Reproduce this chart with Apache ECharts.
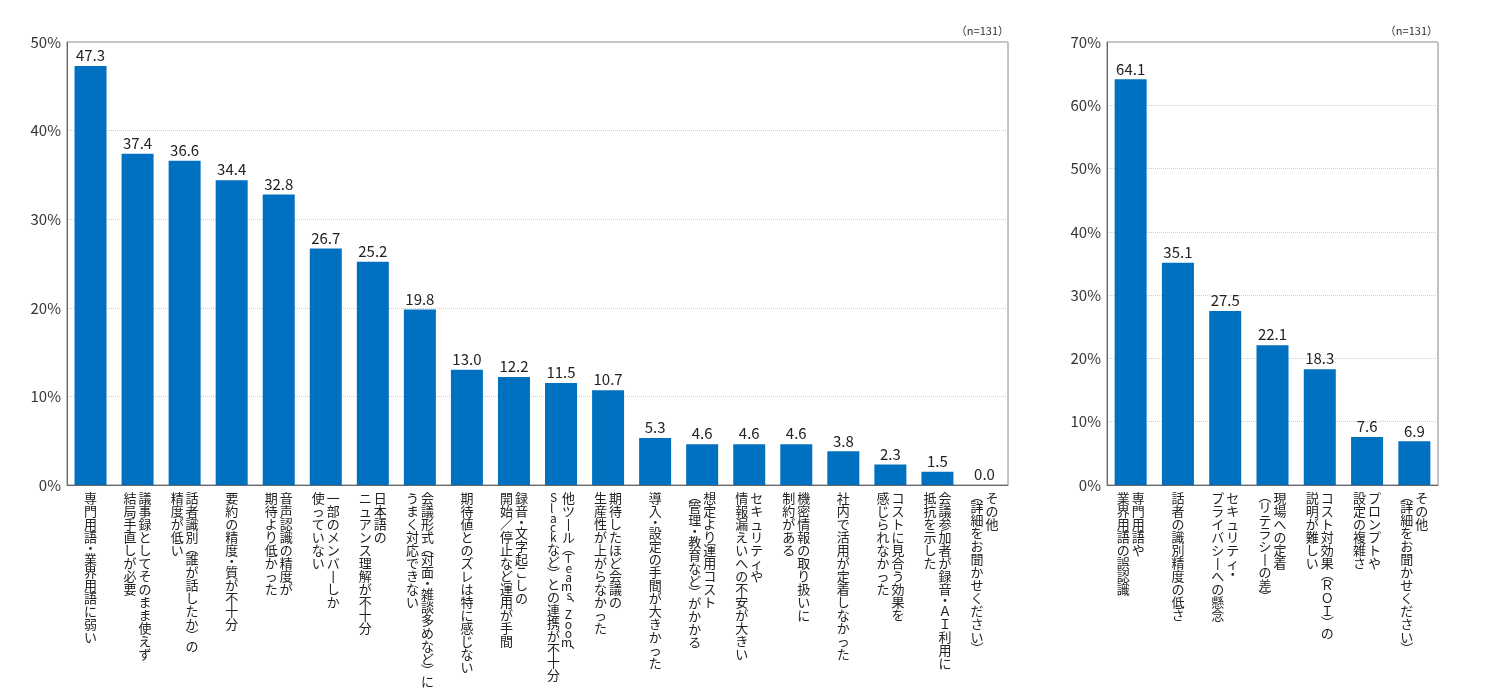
<!DOCTYPE html>
<html><head><meta charset="utf-8">
<script src="https://cdn.jsdelivr.net/npm/echarts@6/dist/echarts.min.js"></script>
<style>html,body{margin:0;padding:0;background:#fff}#c{width:1500px;height:700px}</style>
</head><body><div id="c"></div>
<script>
const leftCategories = [
  '専門用語・業界用語に弱い',
  '議事録としてそのまま使えず\n結局手直しが必要',
  '話者識別（誰が話したか）の\n精度が低い',
  '要約の精度・質が不十分',
  '音声認識の精度が\n期待より低かった',
  '一部のメンバーしか\n使っていない',
  '日本語の\nニュアンス理解が不十分',
  '会議形式（対面・雑談多めなど）に\nうまく対応できない',
  '期待値とのズレは特に感じない',
  '録音・文字起こしの\n開始／停止など運用が手間',
  '他ツール（Teams、Zoom、\nSlackなど）との連携が不十分',
  '期待したほど会議の\n生産性が上がらなかった',
  '導入・設定の手間が大きかった',
  '想定より運用コスト\n（管理・教育など）がかかる',
  'セキュリティや\n情報漏えいへの不安が大きい',
  '機密情報の取り扱いに\n制約がある',
  '社内で活用が定着しなかった',
  'コストに見合う効果を\n感じられなかった',
  '会議参加者が録音・ＡＩ利用に\n抵抗を示した',
  'その他\n（詳細をお聞かせください）'
];
const leftValues = [47.3, 37.4, 36.6, 34.4, 32.8, 26.7, 25.2, 19.8, 13.0, 12.2, 11.5, 10.7, 5.3, 4.6, 4.6, 4.6, 3.8, 2.3, 1.5, 0.0];

const rightCategories = [
  '専門用語や\n業界用語の誤認識',
  '話者の識別精度の低さ',
  'セキュリティ・\nプライバシーへの懸念',
  '現場への定着\n（リテラシーの差）',
  'コスト対効果（ＲＯＩ）の\n説明が難しい',
  'プロンプトや\n設定の複雑さ',
  'その他\n（詳細をお聞かせください）'
];
const rightValues = [64.1, 35.1, 27.5, 22.1, 18.3, 7.6, 6.9];

const leftMax = 50, rightMax = 70, tickStep = 10;
const sampleNote = '（n=131）';

const FONT = "'Noto Sans CJK JP', 'Noto Sans', sans-serif";
const BAR = '#0070c0';
const VMAP = {'ー': '丨', '（': '︵', '）': '︶', '、': '︑'};
const HALF = new Set(['（', '）', '・', '、']);

function colRich(col, side) {
  if (!col) return '';
  const lines = [];
  for (const ch of col) {
    if (/[A-Za-z]/.test(ch)) {
      const t = /[A-Zbdfhklt]/.test(ch) ? 'u' : 'w';
      if (side === 'R') lines.push('{R' + t + '|' + ch + '}{spR| }');
      else if (side === 'L') lines.push('{spL| }{L' + t + '|' + ch + '}');
      else lines.push('{C' + t + '|' + ch + '}');
    } else {
      const t = HALF.has(ch) ? 'h' : 'f';
      lines.push('{' + side + t + '|' + (VMAP[ch] || ch) + '}');
    }
  }
  return lines.join('\n');
}
function fmtA(v) { const c = v.split('\n'); return colRich(c[0], c.length > 1 ? 'R' : 'C'); }
function fmtB(v) { const c = v.split('\n'); return c.length > 1 ? colRich(c[1], 'L') : ''; }

function richStyles() {
  const base = {fontSize: 13, color: '#222', fontFamily: FONT};
  const r = {};
  [['R', 'right'], ['L', 'left'], ['C', 'center']].forEach(([s, al]) => {
    r[s + 'f'] = Object.assign({}, base, {width: 28, align: al, lineHeight: 13});
    r[s + 'h'] = Object.assign({}, base, {width: 28, align: al, lineHeight: 9});
    r[s + 'u'] = Object.assign({}, base, {fontSize: 12, align: al, lineHeight: 11});
    r[s + 'w'] = Object.assign({}, base, {fontSize: 12, align: al, lineHeight: 9});
  });
  r.spR = {fontSize: 6, width: 3, align: 'right', lineHeight: 6};
  r.spL = {fontSize: 6, width: 3, align: 'left', lineHeight: 6};
  return r;
}
const rich = richStyles();

function xAxes(grid, cats) {
  return [
    {gridIndex: grid, type: 'category', data: cats,
      axisLine: {lineStyle: {color: '#666'}}, axisTick: {show: false},
      axisLabel: {interval: 0, margin: 7, formatter: fmtA, rich: rich}},
    {gridIndex: grid, type: 'category', data: cats, position: 'bottom',
      axisLine: {show: false}, axisTick: {show: false},
      axisLabel: {interval: 0, margin: 7, formatter: fmtB, rich: rich}}
  ];
}
function yAxis(grid, max) {
  return {gridIndex: grid, type: 'value', min: 0, max: max, interval: tickStep,
    axisLabel: {formatter: '{value}%', fontSize: 15, color: '#333', margin: 6, fontFamily: FONT},
    axisLine: {show: true, lineStyle: {color: '#666'}}, axisTick: {show: false},
    splitLine: {lineStyle: {type: 'dotted', color: '#ccc'}}};
}
function barSeries(xi, yi, data) {
  return {type: 'bar', xAxisIndex: xi, yAxisIndex: yi, data: data, barWidth: 32,
    itemStyle: {color: BAR},
    label: {show: true, position: 'top', distance: 3, fontSize: 15, color: '#222', fontFamily: FONT,
      formatter: p => Number(p.value).toFixed(1)}};
}

const chart = echarts.init(document.getElementById('c'));
chart.setOption({
  animation: false,
  backgroundColor: '#fff',
  title: [
    {text: sampleNote, right: 491, top: 25, padding: 0, textStyle: {fontSize: 11, fontWeight: 'normal', color: '#333', fontFamily: FONT}},
    {text: sampleNote, right: 62, top: 25, padding: 0, textStyle: {fontSize: 11, fontWeight: 'normal', color: '#333', fontFamily: FONT}}
  ],
  grid: [
    {left: 67, right: 492, top: 42, bottom: 215, show: true, borderColor: '#888', borderWidth: 1},
    {left: 1107, right: 62, top: 42, bottom: 215, show: true, borderColor: '#888', borderWidth: 1}
  ],
  xAxis: xAxes(0, leftCategories).concat(xAxes(1, rightCategories)),
  yAxis: [yAxis(0, leftMax), yAxis(1, rightMax)],
  series: [barSeries(0, 0, leftValues), barSeries(2, 1, rightValues)]
});
</script></body></html>
